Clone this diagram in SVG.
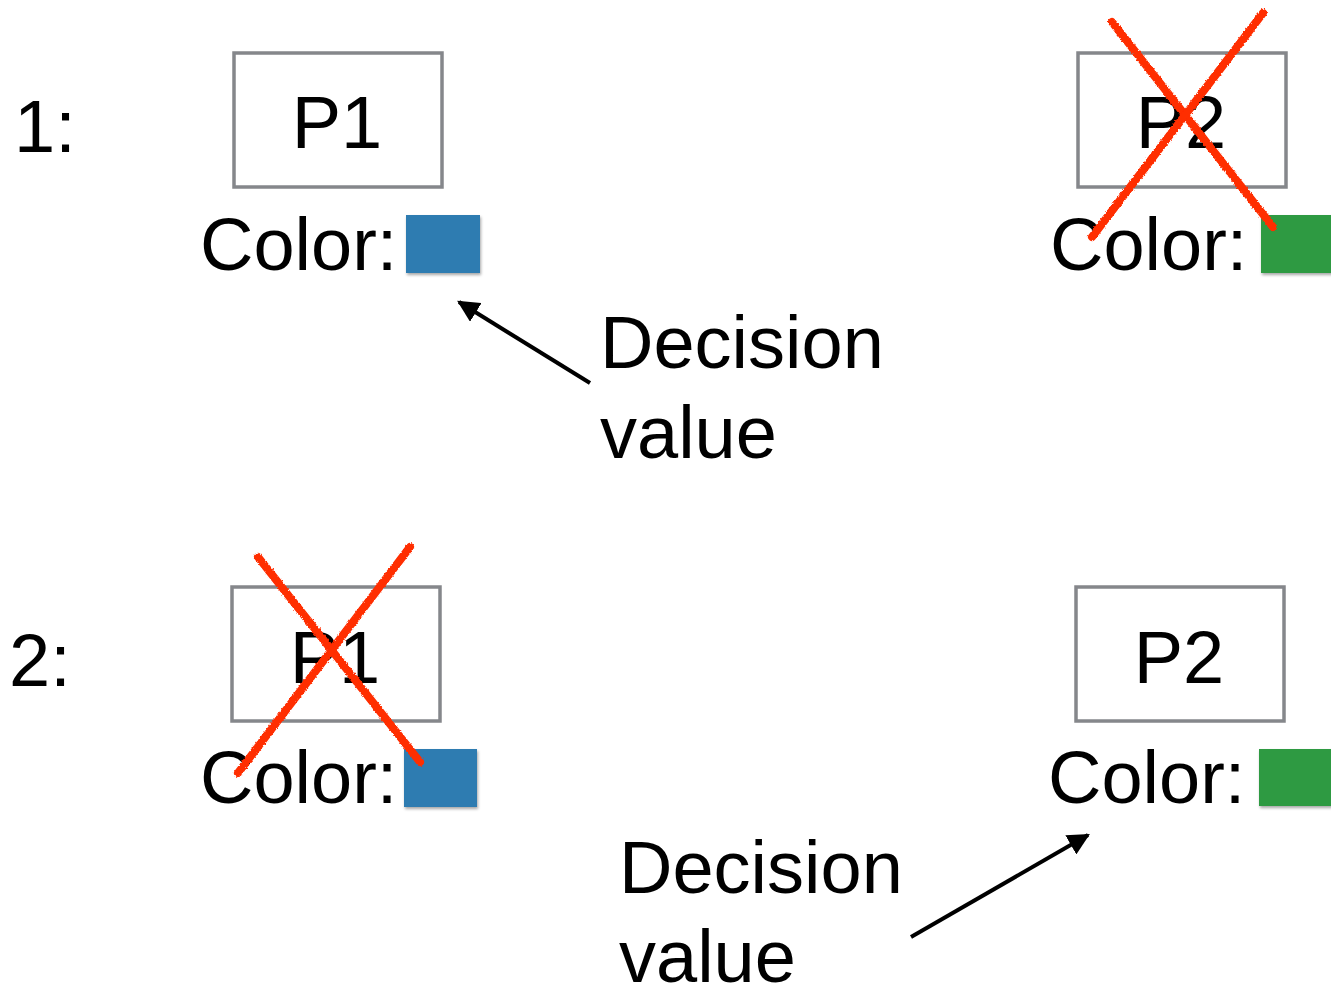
<svg xmlns="http://www.w3.org/2000/svg" width="1331" height="988" viewBox="0 0 1331 988">
  <style>
    .lbl { font-family: "Liberation Sans", Arial, sans-serif; font-size: 74px; fill: #000; }
    .mid { text-anchor: middle; }
    .box { fill: #fff; stroke: #85878b; stroke-width: 3.5; }
    .blue { fill: #2f7cb1; filter: url(#shadow); }
    .green { fill: #2e9a43; filter: url(#shadow); }
    .cross { stroke: #ff2d00; stroke-width: 8; stroke-linecap: round; fill: none; filter: url(#rough); }
    .arrow { stroke: #000; stroke-width: 4; fill: none; marker-end: url(#head); }
  </style>
  <defs>
    <marker id="head" viewBox="0 0 10 10" refX="9" refY="5" markerWidth="5.5" markerHeight="5.5" orient="auto" markerUnits="strokeWidth">
      <path d="M0,0 L10,5 L0,10 z" fill="#000"/>
    </marker>
    <filter id="shadow" x="-10%" y="-10%" width="130%" height="140%">
      <feGaussianBlur in="SourceAlpha" stdDeviation="1.5"/>
      <feOffset dx="1" dy="2" result="b"/>
      <feComponentTransfer><feFuncA type="linear" slope="0.35"/></feComponentTransfer>
      <feMerge><feMergeNode/><feMergeNode in="SourceGraphic"/></feMerge>
    </filter>
    <filter id="rough" x="-10%" y="-10%" width="120%" height="120%">
      <feTurbulence type="fractalNoise" baseFrequency="0.6" numOctaves="2" seed="3"/>
      <feDisplacementMap in="SourceGraphic" scale="3" xChannelSelector="R" yChannelSelector="G"/>
    </filter>
  </defs>

  <!-- step labels -->
  <g id="step1"><text class="lbl" x="14" y="152">1:</text></g>
  <g id="step2"><text class="lbl" x="9" y="686">2:</text></g>

  <!-- step 1 -->
  <g id="s1-p1">
    <rect class="box" x="234" y="53" width="208" height="134"/>
    <text class="lbl mid" x="337" y="148">P1</text>
    <text class="lbl" x="200" y="270">Color:</text>
    <rect class="blue" x="406" y="215" width="74" height="58"/>
  </g>
  <g id="s1-p2">
    <rect class="box" x="1078" y="53" width="208" height="134"/>
    <text class="lbl mid" x="1181" y="148">P2</text>
    <text class="lbl" x="1050" y="270">Color:</text>
    <rect class="green" x="1261" y="215" width="72" height="58"/>
    <line class="cross" x1="1112" y1="22" x2="1273" y2="227"/>
    <line class="cross" x1="1263" y1="13" x2="1092" y2="237"/>
  </g>
  <g id="s1-decision">
    <text class="lbl" x="600" y="368">Decision</text>
    <text class="lbl" x="600" y="458">value</text>
  </g>

  <!-- step 2 -->
  <g id="s2-p1">
    <rect class="box" x="232" y="587" width="208" height="134"/>
    <text class="lbl mid" x="335" y="683">P1</text>
    <text class="lbl" x="200" y="803">Color:</text>
    <rect class="blue" x="404" y="749" width="73" height="58"/>
    <line class="cross" x1="258" y1="557" x2="420" y2="762"/>
    <line class="cross" x1="410" y1="547" x2="238" y2="773"/>
  </g>
  <g id="s2-p2">
    <rect class="box" x="1076" y="587" width="208" height="134"/>
    <text class="lbl mid" x="1179" y="683">P2</text>
    <text class="lbl" x="1048" y="803">Color:</text>
    <rect class="green" x="1259" y="749" width="74" height="57"/>
  </g>
  <g id="s2-decision">
    <text class="lbl" x="619" y="893">Decision</text>
    <text class="lbl" x="619" y="982">value</text>
  </g>

  <!-- connectors -->
  <g id="connectors">
    <line class="arrow" x1="590" y1="383" x2="459" y2="302"/>
    <line class="arrow" x1="911" y1="937" x2="1088" y2="835"/>
  </g>
</svg>
